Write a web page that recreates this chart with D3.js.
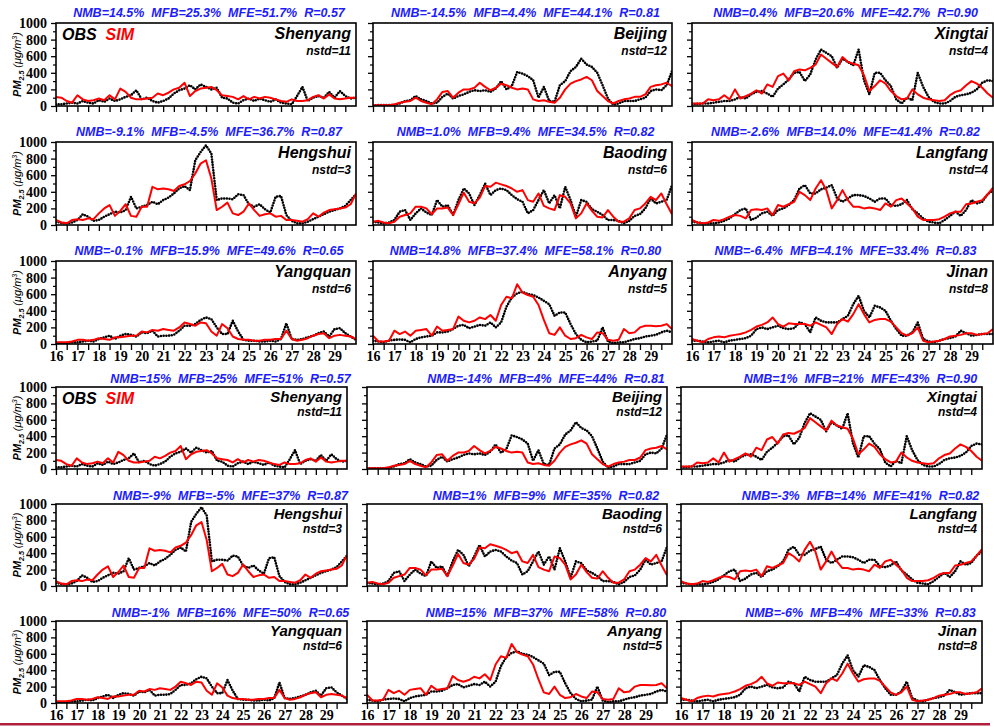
<!DOCTYPE html>
<html>
<head>
<meta charset="utf-8">
<script src="https://cdn.jsdelivr.net/npm/d3@7"></script>
<style>
  body { margin: 0; background: #fff; }
  svg { display: block; }
</style>
</head>
<body>
<svg id="chart" width="994" height="727"></svg>
<script>
// ---- data: PM2.5 (ug/m3), 6-hourly from day 16 00h to day 30 00h ----
const dayLabels = [16, 17, 18, 19, 20, 21, 22, 23, 24, 25, 26, 27, 28, 29];
const stations = ["Shenyang", "Beijing", "Xingtai", "Hengshui", "Baoding", "Langfang", "Yangquan", "Anyang", "Jinan"];
const nstd = [11, 12, 4, 3, 6, 4, 6, 5, 8];

const nmbFull = [14.5, -14.5, 0.4, -9.1, 1.0, -2.6, -0.1, 14.8, -6.4];
const mfbFull = [25.3, 4.4, 20.6, -4.5, 9.4, 14.0, 15.9, 37.4, 4.1];
const mfeFull = [51.7, 44.1, 42.7, 36.7, 34.5, 41.4, 49.6, 58.1, 33.4];
const nmbRounded = [15, -14, 1, -9, 1, -3, -1, 15, -6];
const mfbRounded = [25, 4, 21, -5, 9, 14, 16, 37, 4];
const mfeRounded = [51, 44, 43, 37, 35, 41, 50, 58, 33];
const rValues = [0.57, 0.81, 0.90, 0.87, 0.82, 0.82, 0.65, 0.80, 0.83];

const obsShenyang = [20,20,30,40, 30,60,40,30, 70,50,90,60, 80,110,130,190, 80,100,60,40, 60,90,150,190, 210,250,200,260, 230,200,220,100, 90,40,30,70, 90,60,90,70, 50,80,40,30, 20,120,230,60, 100,120,100,170, 100,180,120,90, 100];
const simShenyang = [110,100,60,40, 130,80,60,70, 90,70,130,80, 210,170,100,80, 80,90,100,150, 130,160,200,220, 280,120,180,210, 220,230,190,130, 120,110,80,120, 80,110,90,110, 100,80,60,50, 80,60,60,70, 110,130,90,140, 90,80,90,100, 100];
const obsBeijing = [5,10,10,10, 10,30,60,70, 120,80,60,30, 40,110,150,90, 120,140,170,190, 180,190,170,210, 300,200,240,410, 390,360,310,100, 230,60,50,250, 300,420,470,570, 500,470,400,250, 90,15,30,60, 60,60,80,100, 180,200,190,250, 420];
const simBeijing = [10,10,10,10, 20,40,50,60, 100,60,40,20, 80,170,180,100, 160,200,200,220, 280,230,190,220, 270,250,220,200, 210,200,80,60, 70,50,40,100, 200,270,300,320, 350,310,180,120, 60,30,60,80, 90,110,110,140, 230,250,260,280, 240];
const obsXingtai = [25,25,30,30, 40,50,60,60, 80,110,90,140, 170,180,150,110, 210,260,320,400, 410,300,380,560, 680,640,600,460, 570,530,490,680, 310,140,400,400, 310,240,80,30, 100,70,400,230, 110,50,30,30, 60,110,130,140, 160,200,280,310, 300];
const simXingtai = [30,30,30,80, 70,80,130,80, 200,90,120,150, 190,150,260,230, 360,390,310,420, 440,430,460,500, 620,570,520,470, 590,530,510,490, 370,180,240,310, 270,180,120,80, 90,200,140,100, 80,70,60,70, 130,170,190,250, 300,270,220,150, 100];
const obsHengshui = [40,25,20,30, 60,130,100,50, 60,100,130,160, 150,180,340,200, 220,240,280,250, 300,330,380,440, 470,420,780,880, 960,860,300,320, 320,310,370,360, 250,220,250,190, 150,340,350,120, 50,20,20,40, 70,100,130,160, 180,200,230,300, 370];
const simHengshui = [60,30,20,60, 70,60,80,70, 140,200,240,110, 170,250,110,100, 220,220,460,430, 440,430,410,470, 490,530,620,740, 780,560,180,220, 270,140,120,160, 260,180,110,130, 140,100,110,60, 60,50,40,70, 140,100,150,180, 190,200,210,250, 380];
const obsBaoding = [40,30,20,30, 60,160,180,60, 140,200,150,120, 300,220,240,120, 300,440,380,240, 360,500,360,420, 440,420,360,310, 280,140,180,300, 420,260,360,200, 460,300,100,300, 280,190,160,120, 60,60,50,20, 50,110,130,200, 320,260,280,300, 480];
const simBaoding = [40,50,30,20, 40,100,120,140, 220,220,200,130, 200,200,210,120, 250,390,280,260, 330,470,460,510, 490,470,440,400, 420,300,280,380, 230,200,180,360, 340,260,80,140, 260,170,100,90, 180,100,40,40, 80,180,200,260, 340,300,380,250, 130];
const obsLangfang = [40,30,20,20, 20,30,50,80, 130,180,200,60, 90,140,160,110, 180,200,240,300, 440,480,380,380, 430,450,480,320, 280,320,360,360, 350,320,280,320, 320,240,230,250, 300,190,140,80, 40,30,20,60, 110,160,110,180, 300,260,280,370, 420];
const simLangfang = [60,30,20,30, 60,50,70,100, 120,110,80,180, 190,180,200,120, 240,220,250,280, 400,360,300,440, 540,420,200,300, 420,300,220,220, 200,210,200,180, 260,220,300,320, 260,200,100,60, 60,60,70,100, 140,160,160,250, 260,280,300,370, 450];
const obsYangquan = [10,10,10,20, 20,30,40,30, 60,80,100,60, 100,120,110,90, 140,130,160,90, 100,100,110,160, 220,220,240,290, 320,300,200,120, 120,280,150,50, 40,40,30,30, 40,30,60,250, 60,50,60,80, 100,130,150,90, 180,190,130,90, 50];
const simYangquan = [20,20,20,30, 50,50,40,50, 70,60,50,80, 80,90,100,100, 150,140,170,160, 180,170,160,200, 260,240,220,260, 250,150,100,240, 190,90,60,50, 50,40,40,50, 50,60,60,160, 60,40,50,70, 100,120,130,70, 100,110,100,90, 60];
const obsAnyang = [40,30,20,40, 50,55,50,20, 60,80,90,100, 140,140,150,180, 220,230,190,210, 230,220,260,200, 260,450,560,610, 630,600,590,560, 520,480,340,380, 380,240,120,50, 20,30,40,200, 30,10,20,20, 40,60,70,90, 100,110,140,160, 140];
const simAnyang = [100,30,30,40, 160,120,150,100, 160,170,180,100, 210,160,170,180, 330,280,260,280, 320,300,350,280, 470,570,550,720, 620,590,570,470, 290,130,110,200, 100,60,70,110, 80,60,140,130, 50,40,50,180, 130,140,200,220, 220,215,220,240, 180];
const obsJinan = [40,40,30,20, 30,40,20,40, 50,60,70,100, 180,200,180,200, 220,190,180,190, 260,240,140,320, 280,260,260,260, 300,340,480,580, 400,320,460,440, 400,280,180,100, 100,140,260,60, 30,20,40,60, 70,90,160,130, 100,110,120,120, 120];
const simJinan = [60,40,20,60, 80,90,80,100, 110,120,140,170, 210,230,260,320, 240,210,250,240, 240,240,220,260, 230,200,120,240, 300,270,360,480, 360,260,290,300, 300,270,200,130, 100,130,200,40, 20,30,40,60, 90,100,110,130, 130,110,120,130, 180];

const obsSeries = [obsShenyang, obsBeijing, obsXingtai, obsHengshui, obsBaoding, obsLangfang, obsYangquan, obsAnyang, obsJinan];
const simSeries = [simShenyang, simBeijing, simXingtai, simHengshui, simBaoding, simLangfang, simYangquan, simAnyang, simJinan];
const times = d3.range(obsShenyang.length).map(i => 16 + i / 4);

// ---- layout: two blocks of 3x3 panels (x runs from day 16 to day 30 across each box) ----
const blocks = [
  { tops: [23, 142, 261], height: 83,
    frames: [[56, 356], [373, 672], [692, 993]],
    stats: i => `NMB=${nmbFull[i].toFixed(1)}%  MFB=${mfbFull[i].toFixed(1)}%  MFE=${mfeFull[i].toFixed(1)}%  R=${rValues[i].toFixed(2)}`,
    titleShift: 3, titleDy: -6, nameDy: 16, nstdDy: 32, nameSize: 16 },
  { tops: [387, 504, 621], height: 82,
    frames: [[56, 347], [367, 667], [681, 982]],
    stats: i => `NMB=${nmbRounded[i]}%  MFB=${mfbRounded[i]}%  MFE=${mfeRounded[i]}%  R=${rValues[i].toFixed(2)}`,
    titleShift: 29, titleDy: -4, nameDy: 15, nstdDy: 29, nameSize: 15 }
];

const svg = d3.select("#chart");
const sans = "'Liberation Sans', Arial, sans-serif";
const serif = "'Liberation Serif', 'Times New Roman', serif";
let clipId = 0;

blocks.forEach(block => {
  block.tops.forEach((top, row) => {
    block.frames.forEach(([left, right], col) => {
      const k = row * 3 + col;
      const bottom = top + block.height;
      const x = d3.scaleLinear().domain([16, 30]).range([left, right]);
      const y = d3.scaleLinear().domain([0, 1000]).range([bottom, top]);
      const g = svg.append("g");

      const id = "clip" + (clipId++);
      g.append("clipPath").attr("id", id)
        .append("rect").attr("x", left).attr("y", top - 2).attr("width", right - left).attr("height", block.height + 2);

      const plot = g.append("g").attr("clip-path", `url(#${id})`);
      const line = d3.line().x((d, i) => x(times[i])).y(d => y(d));

      // observations: dense dots along the record
      plot.append("path").datum(obsSeries[k])
        .attr("d", line).attr("fill", "none")
        .attr("stroke", "#000").attr("stroke-width", 2.6)
        .attr("stroke-linecap", "round").attr("stroke-linejoin", "round")
        .attr("stroke-dasharray", "0 2.7");

      // simulation
      plot.append("path").datum(simSeries[k])
        .attr("d", line).attr("fill", "none")
        .attr("stroke", "#ff0000").attr("stroke-width", 2)
        .attr("stroke-linejoin", "round");

      // y axis ticks (major every 200, minor every 100)
      const yAxis = d3.axisLeft(y).tickValues(d3.range(0, 1001, 200)).tickSize(5)
        .tickFormat(col === 0 ? d3.format("d") : () => "");
      const ya = g.append("g").attr("transform", `translate(${left},0)`).call(yAxis);
      ya.select(".domain").remove();
      ya.selectAll(".tick line").attr("stroke-width", 1.3);
      ya.selectAll("text").attr("font-family", serif).attr("font-weight", "bold")
        .attr("font-size", 14).attr("fill", "#000").attr("dx", -1);
      const yMinor = d3.axisLeft(y).tickValues(d3.range(100, 1000, 200)).tickSize(3).tickFormat("");
      const ym = g.append("g").attr("transform", `translate(${left},0)`).call(yMinor);
      ym.select(".domain").remove();
      ym.selectAll(".tick line").attr("stroke-width", 1.2);

      // x axis ticks every half day; labels on the last row only
      const xAxis = d3.axisBottom(x).tickValues(d3.range(16, 30, 0.5)).tickSize(6)
        .tickFormat(d => (row === 2 && Number.isInteger(d)) ? d : "");
      const xa = g.append("g").attr("transform", `translate(0,${bottom})`).call(xAxis);
      xa.select(".domain").remove();
      xa.selectAll(".tick line").attr("stroke-width", 1.3);
      xa.selectAll("text").attr("font-family", serif).attr("font-weight", "bold")
        .attr("font-size", 14).attr("fill", "#000").attr("dy", "0.55em");

      // frame
      g.append("rect").attr("x", left).attr("y", top)
        .attr("width", right - left).attr("height", block.height)
        .attr("fill", "none").attr("stroke", "#000").attr("stroke-width", 1.6);

      // statistics line
      g.append("text")
        .attr("x", (left + right) / 2 + block.titleShift)
        .attr("y", top + block.titleDy)
        .attr("text-anchor", "middle")
        .attr("font-family", sans).attr("font-weight", "bold").attr("font-style", "italic")
        .attr("font-size", 12.5).attr("fill", "#1c1cff")
        .style("white-space", "pre")
        .text(block.stats(k));

      // station name and number of stations
      g.append("text").attr("x", right - 5).attr("y", top + block.nameDy)
        .attr("text-anchor", "end").attr("font-family", sans).attr("font-weight", "bold")
        .attr("font-style", "italic").attr("font-size", block.nameSize).text(stations[k]);
      g.append("text").attr("x", right - 5).attr("y", top + block.nstdDy)
        .attr("text-anchor", "end").attr("font-family", sans).attr("font-weight", "bold")
        .attr("font-style", "italic").attr("font-size", 12).text("nstd=" + nstd[k]);

      // legend in first panel
      if (k === 0) {
        const lg = g.append("text").attr("x", left + 6).attr("y", top + 17)
          .attr("font-family", sans).attr("font-weight", "bold").attr("font-style", "italic")
          .attr("font-size", 16).style("white-space", "pre");
        lg.append("tspan").attr("fill", "#000").text("OBS  ");
        lg.append("tspan").attr("fill", "#ff0000").text("SIM");
      }

      // y axis title
      if (col === 0) {
        const t = g.append("text")
          .attr("transform", `translate(21,${(top + bottom) / 2}) rotate(-90)`)
          .attr("text-anchor", "middle").attr("font-family", sans)
          .attr("font-style", "italic").attr("font-size", 11).attr("fill", "#000");
        t.append("tspan").attr("font-weight", "bold").text("PM");
        t.append("tspan").attr("font-size", 7).attr("font-weight", "bold").attr("dy", 3).text("2.5");
        t.append("tspan").attr("dy", -3).text(" (μg/m");
        t.append("tspan").attr("font-size", 7).attr("dy", -4).text("3");
        t.append("tspan").attr("dy", 4).text(")");
      }
    });
  });
});

// closing rule
svg.append("rect").attr("x", 0).attr("y", 723).attr("width", 990).attr("height", 2.5).attr("fill", "#b01e3c");
</script>
</body>
</html>
